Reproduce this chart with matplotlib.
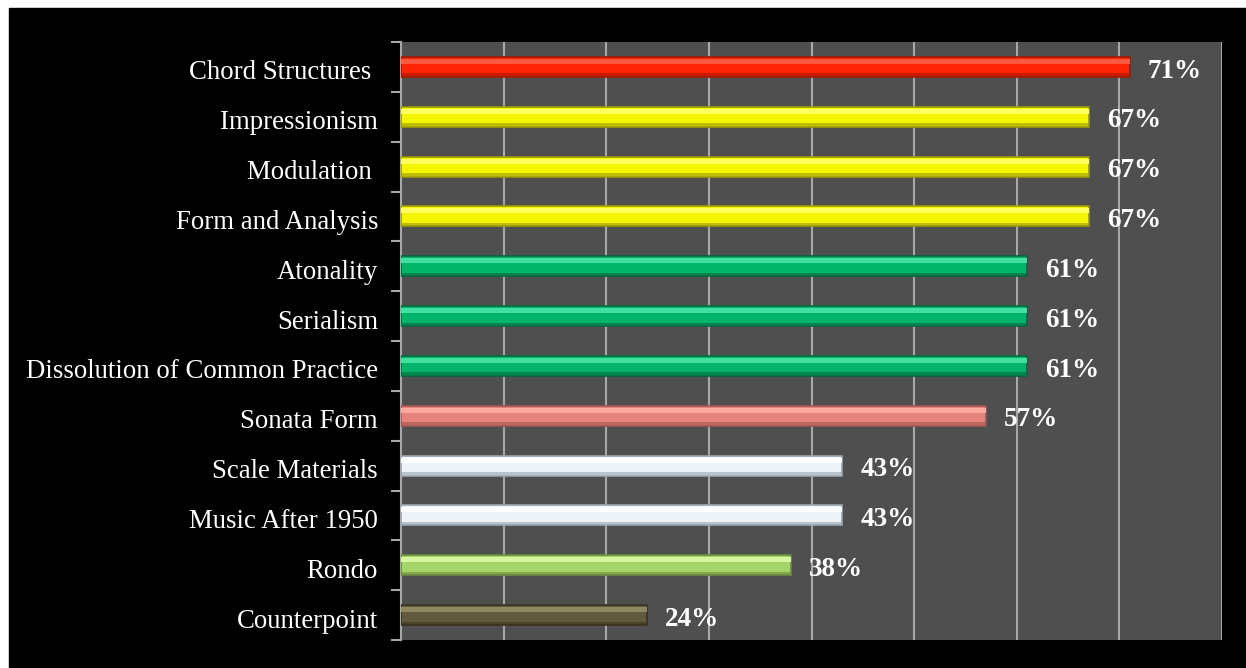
import matplotlib.pyplot as plt
import matplotlib.patches as mpatches
import matplotlib.transforms as mtransforms
import numpy as np

#===========data===========
categories = ["Chord Structures ", "Impressionism", "Modulation ", "Form and Analysis",
              "Atonality", "Serialism", "Dissolution of Common Practice", "Sonata Form",
              "Scale Materials", "Music After 1950", "Rondo", "Counterpoint"]
values = [71, 67, 67, 67, 61, 61, 61, 57, 43, 43, 38, 24]
labels = ["71%", "67%", "67%", "67%", "61%", "61%", "61%", "57%", "43%", "43%", "38%", "24%"]

# fill / highlight / edge per bar
fill_colors = ["#ff2408", "#f5f500", "#f5f500", "#f5f500", "#00b46a", "#00b46a", "#00b46a",
               "#e6837c", "#eef3f8", "#eef3f8", "#a5d46a", "#625a3c"]
light_colors = ["#ff5a40", "#ffff60", "#ffff60", "#ffff60", "#40e0a0", "#40e0a0", "#40e0a0",
                "#ffa8a0", "#ffffff", "#ffffff", "#d6f5a0", "#908865"]
edge_colors = ["#a01800", "#9a9a00", "#9a9a00", "#9a9a00", "#006a3e", "#006a3e", "#006a3e",
               "#a05550", "#9aa4ae", "#9aa4ae", "#6a8a3e", "#3a3420"]

fig = plt.figure(figsize=(12.46, 6.68), dpi=100, facecolor="white")
# black slide background with a thin white margin on top / left
fig.patches.append(mpatches.Rectangle((9 / 1246, 0), 1, 1 - 8 / 668,
                                      transform=fig.transFigure, color="black", zorder=-10))

ax = fig.add_axes([401 / 1246, 28 / 668, 821 / 1246, 598 / 668])
ax.set_facecolor("#4f4f4f")

y = np.arange(len(categories))
bar_h = 0.4

ax.barh(y, values, height=bar_h, color=fill_colors, edgecolor=edge_colors, linewidth=1.2, zorder=3)
# bevel: light band near top, darker band near bottom
ax.barh(y - 0.11, values, height=0.1, color=light_colors, linewidth=0, zorder=4)
ax.barh(y + 0.16, values, height=0.06, color=edge_colors, alpha=0.6, linewidth=0, zorder=4)

for yi, v, lab in zip(y, values, labels):
    ax.annotate(lab, (v, yi), xytext=(13, -3), textcoords="offset points",
                va="center", ha="left", color="white", fontsize=19.5, fontweight="bold",
                family="Liberation Serif", zorder=5)

ax.set_xlim(0, 80)
ax.set_ylim(len(categories) - 0.5, -0.5)
ax.set_xticks(np.arange(10, 81, 10))
ax.set_xticklabels([])
ax.tick_params(axis="x", length=0)
ax.grid(axis="x", color="#a8a8a8", linewidth=1.5, zorder=1)

ax.set_yticks(y)
ax.set_yticklabels(categories, family="Liberation Serif", fontsize=19.3, color="white")
ax.tick_params(axis="y", which="major", length=0, pad=16.5)
ax.set_yticks(np.arange(-0.5, len(categories), 1), minor=True)
ax.tick_params(axis="y", which="minor", length=7, width=1.5, color="#a8a8a8")
shift = mtransforms.ScaledTranslation(0, -3 / 100, fig.dpi_scale_trans)
for t in ax.get_yticklabels():
    t.set_transform(t.get_transform() + shift)

for s in ["top", "right", "bottom"]:
    ax.spines[s].set_visible(False)
ax.spines["left"].set_color("#a8a8a8")
ax.spines["left"].set_linewidth(1.5)

plt.savefig("out.png", dpi=100, facecolor=fig.get_facecolor())
